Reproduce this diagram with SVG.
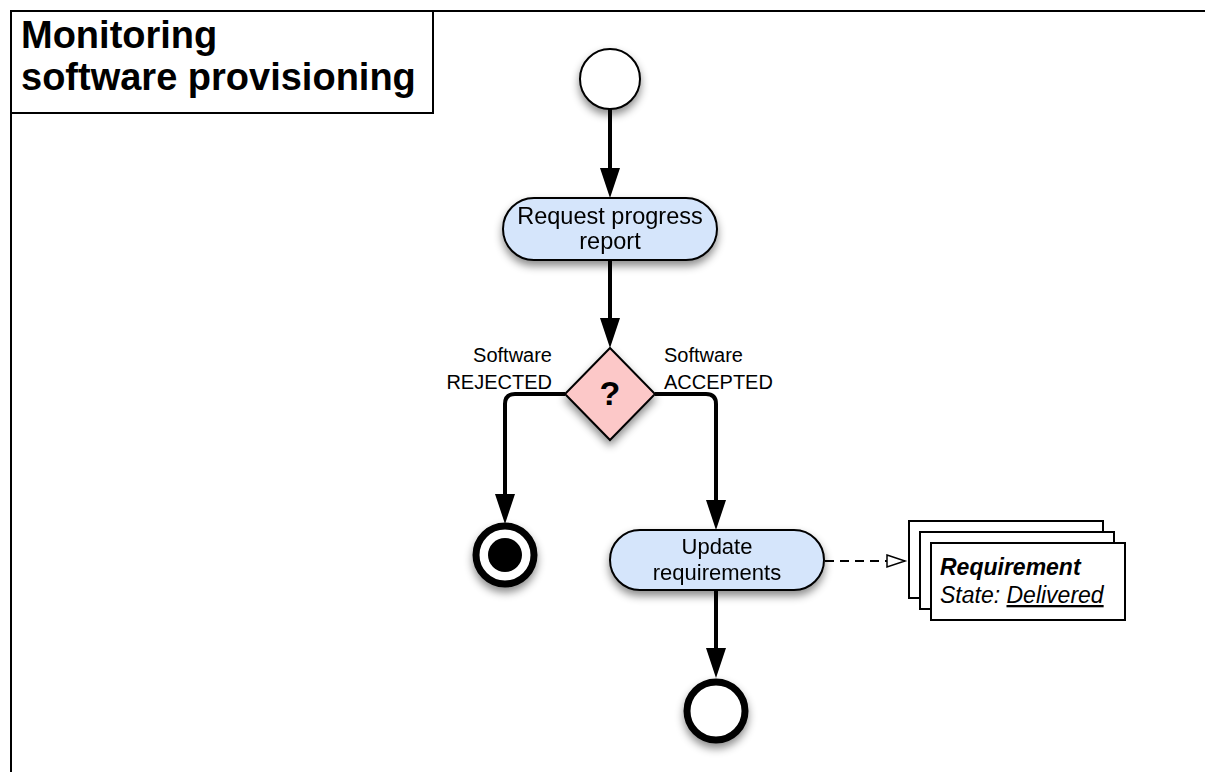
<svg xmlns="http://www.w3.org/2000/svg" width="1205" height="772" viewBox="0 0 1205 772">
<style>
  .frame { fill: none; stroke: #000; stroke-width: 2; }
  .title { font-family: "Liberation Sans", Arial, sans-serif; font-weight: bold; font-size: 38px; fill: #000; }
  .pill { fill: #d5e5fb; stroke: #000; stroke-width: 2; }
  .ntext { font-family: "Liberation Sans", Arial, sans-serif; font-size: 22px; fill: #000; text-anchor: middle; }
  .big { font-size: 23.5px; }
  .label { font-family: "Liberation Sans", Arial, sans-serif; font-size: 20px; fill: #000; }
  .flow { fill: none; stroke: #000; stroke-width: 4; }
  .dep { fill: none; stroke: #000; stroke-width: 2; stroke-dasharray: 9 6; }
  .doc { fill: #fff; stroke: #000; stroke-width: 2; }
  .dtext { font-family: "Liberation Sans", Arial, sans-serif; font-size: 23px; fill: #000; font-style: italic; }
</style>
<defs>
  <filter id="sh" x="-30%" y="-30%" width="160%" height="170%">
    <feDropShadow dx="0" dy="5" stdDeviation="4" flood-color="#000" flood-opacity="0.45"/>
  </filter>
  <marker id="ah" markerUnits="userSpaceOnUse" markerWidth="30" markerHeight="20" refX="20" refY="10" orient="auto">
    <path d="M0,0 L30,10 L0,20 Z" fill="#000"/>
  </marker>
  <marker id="oh" markerUnits="userSpaceOnUse" markerWidth="22" markerHeight="16" refX="19" refY="8" orient="auto">
    <path d="M1,2 L19,8 L1,14 Z" fill="#fff" stroke="#000" stroke-width="1.5"/>
  </marker>
</defs>
<rect width="1205" height="772" fill="#fff"/>
<g id="frame">
  <line x1="10" y1="11" x2="1205" y2="11" class="frame"/>
  <line x1="11" y1="10" x2="11" y2="772" class="frame"/>
  <rect x="11" y="11" width="422" height="102" class="frame"/>
  <text class="title" x="21" y="48">Monitoring</text>
  <text class="title" x="21" y="90">software provisioning</text>
</g>
<g id="connectors">
  <path class="flow" d="M610,109 L610,188" marker-end="url(#ah)"/>
  <path class="flow" d="M610,260 L610,338" marker-end="url(#ah)"/>
  <path class="flow" d="M565,394 L515,394 Q505,394 505,404 L505,514" marker-end="url(#ah)"/>
  <path class="flow" d="M655,394 L706,394 Q716,394 716,404 L716,520" marker-end="url(#ah)"/>
  <path class="flow" d="M716,590 L716,668" marker-end="url(#ah)"/>
  <path class="dep" d="M825,561 L905,561" marker-end="url(#oh)"/>
</g>
<g id="start" filter="url(#sh)">
  <circle cx="610" cy="79" r="30" fill="#fff" stroke="#000" stroke-width="2"/>
</g>
<g id="request" filter="url(#sh)">
  <rect x="503" y="198" width="214" height="62" rx="31" class="pill"/>
  <text class="ntext big" x="610" y="224">Request progress</text>
  <text class="ntext big" x="610" y="249">report</text>
</g>
<g id="decision">
  <polygon points="610,348 655,394 610,440 565,394" fill="#fcc8c8" stroke="#000" stroke-width="2" filter="url(#sh)"/>
  <text x="610" y="405" font-family="Liberation Sans, Arial, sans-serif" font-weight="bold" font-size="34" text-anchor="middle">?</text>
</g>
<g id="label-rejected">
  <text class="label" x="552" y="362" text-anchor="end">Software</text>
  <text class="label" x="552" y="389" text-anchor="end">REJECTED</text>
</g>
<g id="label-accepted">
  <text class="label" x="664" y="362">Software</text>
  <text class="label" x="664" y="389">ACCEPTED</text>
</g>
<g id="final" filter="url(#sh)">
  <circle cx="505" cy="555" r="29" fill="#fff" stroke="#000" stroke-width="7"/>
  <circle cx="505" cy="555" r="17" fill="#000"/>
</g>
<g id="update" filter="url(#sh)">
  <rect x="610" y="530" width="214" height="60" rx="30" class="pill"/>
  <text class="ntext" x="717" y="554">Update</text>
  <text class="ntext" x="717" y="580">requirements</text>
</g>
<g id="end" filter="url(#sh)">
  <circle cx="716" cy="711" r="29" fill="#fff" stroke="#000" stroke-width="7"/>
</g>
<g id="requirement">
  <rect x="909" y="521" width="194" height="77" class="doc"/>
  <rect x="920" y="532" width="194" height="77" class="doc"/>
  <rect x="931" y="543" width="194" height="77" class="doc"/>
  <text class="dtext" x="940" y="575" font-weight="bold">Requirement</text>
  <text class="dtext" x="940" y="603">State: <tspan text-decoration="underline">Delivered</tspan></text>
</g>
</svg>
